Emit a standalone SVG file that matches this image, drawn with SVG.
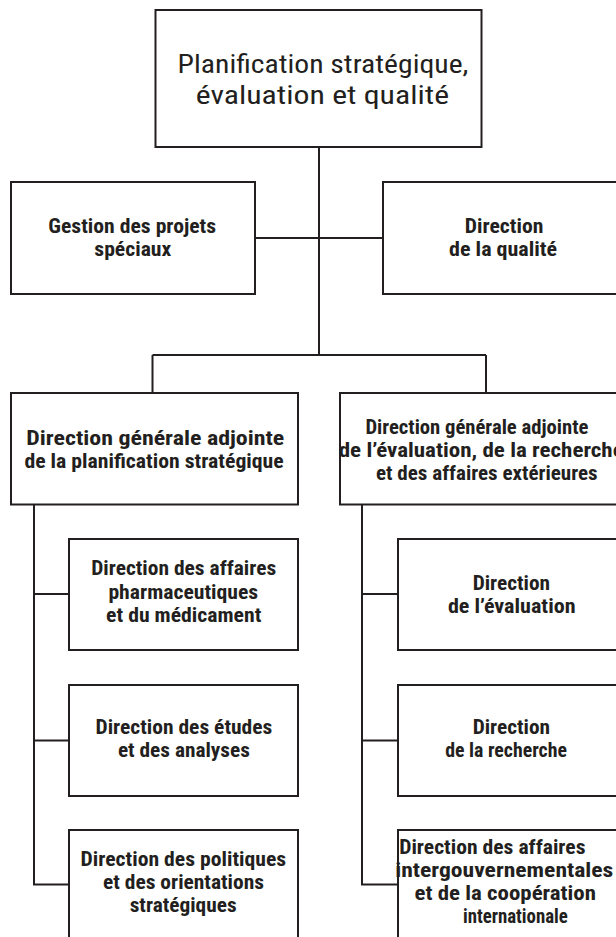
<svg xmlns="http://www.w3.org/2000/svg" width="616" height="937" viewBox="0 0 616 937">
<style>
.box{fill:#fff;stroke:#231f20;stroke-width:2}
.ln{fill:none;stroke:#231f20;stroke-width:2}
.t{font-family:"Liberation Sans Narrow","Roboto Condensed","DejaVu Sans Condensed","Liberation Sans",sans-serif;font-weight:bold;font-size:19.5px;fill:#231f20}
.h{font-family:"Liberation Sans Narrow","Roboto Condensed","DejaVu Sans Condensed","Liberation Sans",sans-serif;font-weight:normal;font-size:26px;fill:#231f20}
</style>
<rect width="616" height="937" fill="#fff"/>
<g id="connectors">
<path class="ln" d="M319 147V355"/>
<path class="ln" d="M255 238H383"/>
<path class="ln" d="M152.5 355H486M152.5 355V393M486 355V393"/>
<path class="ln" d="M34 504.5V884.5H69M34 594H69M34 740.5H69"/>
<path class="ln" d="M362 504.5V884.5H398M362 594H398M362 740.5H398"/>
</g>
<g id="n-top">
<rect class="box" x="155.5" y="10" width="326" height="137"/>
<text class="h" x="177.6" y="73" textLength="290.8" lengthAdjust="spacingAndGlyphs">Planification stratégique,</text>
<text class="h" x="195.7" y="104" textLength="253.4" lengthAdjust="spacingAndGlyphs">évaluation et qualité</text>
</g>
<g id="n-gestion">
<rect class="box" x="11" y="182" width="244" height="112"/>
<text class="t" x="48.3" y="233" textLength="167.8" lengthAdjust="spacingAndGlyphs">Gestion des projets</text>
<text class="t" x="94.3" y="256" textLength="77" lengthAdjust="spacingAndGlyphs">spéciaux</text>
</g>
<g id="n-qualite">
<rect class="box" x="383" y="182" width="245" height="112"/>
<text class="t" x="464.8" y="233" textLength="78.6" lengthAdjust="spacingAndGlyphs">Direction</text>
<text class="t" x="449.1" y="256" textLength="108" lengthAdjust="spacingAndGlyphs">de la qualité</text>
</g>
<g id="n-dga-plan">
<rect class="box" x="11" y="393" width="287" height="111.5"/>
<text class="t" x="26.3" y="445" textLength="258" lengthAdjust="spacingAndGlyphs">Direction générale adjointe</text>
<text class="t" x="24.4" y="468" textLength="259.3" lengthAdjust="spacingAndGlyphs">de la planification stratégique</text>
</g>
<g id="n-dga-eval">
<rect class="box" x="340" y="393" width="290" height="111.5"/>
<text class="t" x="365.4" y="433.5" textLength="223" lengthAdjust="spacingAndGlyphs">Direction générale adjointe</text>
<text class="t" x="338.7" y="456.5" textLength="285" lengthAdjust="spacingAndGlyphs">de l’évaluation, de la recherche</text>
<text class="t" x="376" y="479.5" textLength="221.6" lengthAdjust="spacingAndGlyphs">et des affaires extérieures</text>
</g>
<g id="n-pharma">
<rect class="box" x="69" y="539" width="229" height="111"/>
<text class="t" x="91.2" y="575" textLength="185" lengthAdjust="spacingAndGlyphs">Direction des affaires</text>
<text class="t" x="108.4" y="598.5" textLength="149.8" lengthAdjust="spacingAndGlyphs">pharmaceutiques</text>
<text class="t" x="106.1" y="622" textLength="155.2" lengthAdjust="spacingAndGlyphs">et du médicament</text>
</g>
<g id="n-etudes">
<rect class="box" x="69" y="685" width="229" height="111"/>
<text class="t" x="95.5" y="734" textLength="176.8" lengthAdjust="spacingAndGlyphs">Direction des études</text>
<text class="t" x="117.9" y="757" textLength="132" lengthAdjust="spacingAndGlyphs">et des analyses</text>
</g>
<g id="n-politiques">
<rect class="box" x="69" y="830" width="229" height="115"/>
<text class="t" x="80.6" y="866" textLength="205.5" lengthAdjust="spacingAndGlyphs">Direction des politiques</text>
<text class="t" x="103" y="889" textLength="161" lengthAdjust="spacingAndGlyphs">et des orientations</text>
<text class="t" x="129.7" y="912" textLength="106.9" lengthAdjust="spacingAndGlyphs">stratégiques</text>
</g>
<g id="n-evaluation">
<rect class="box" x="398" y="539" width="230" height="111"/>
<text class="t" x="472.7" y="589.5" textLength="77.4" lengthAdjust="spacingAndGlyphs">Direction</text>
<text class="t" x="447.9" y="612.5" textLength="127.7" lengthAdjust="spacingAndGlyphs">de l’évaluation</text>
</g>
<g id="n-recherche">
<rect class="box" x="398" y="685" width="230" height="111"/>
<text class="t" x="472.7" y="734" textLength="77.4" lengthAdjust="spacingAndGlyphs">Direction</text>
<text class="t" x="445.2" y="757" textLength="121.8" lengthAdjust="spacingAndGlyphs">de la recherche</text>
</g>
<g id="n-intergouv">
<rect class="box" x="398" y="830" width="230" height="115"/>
<text class="t" x="399.2" y="854" textLength="186.3" lengthAdjust="spacingAndGlyphs">Direction des affaires</text>
<text class="t" x="395.3" y="877" textLength="218" lengthAdjust="spacingAndGlyphs">intergouvernementales</text>
<text class="t" x="414.5" y="900" textLength="181.5" lengthAdjust="spacingAndGlyphs">et de la coopération</text>
<text class="t" x="462.9" y="923" textLength="105" lengthAdjust="spacingAndGlyphs">internationale</text>
</g>
</svg>
